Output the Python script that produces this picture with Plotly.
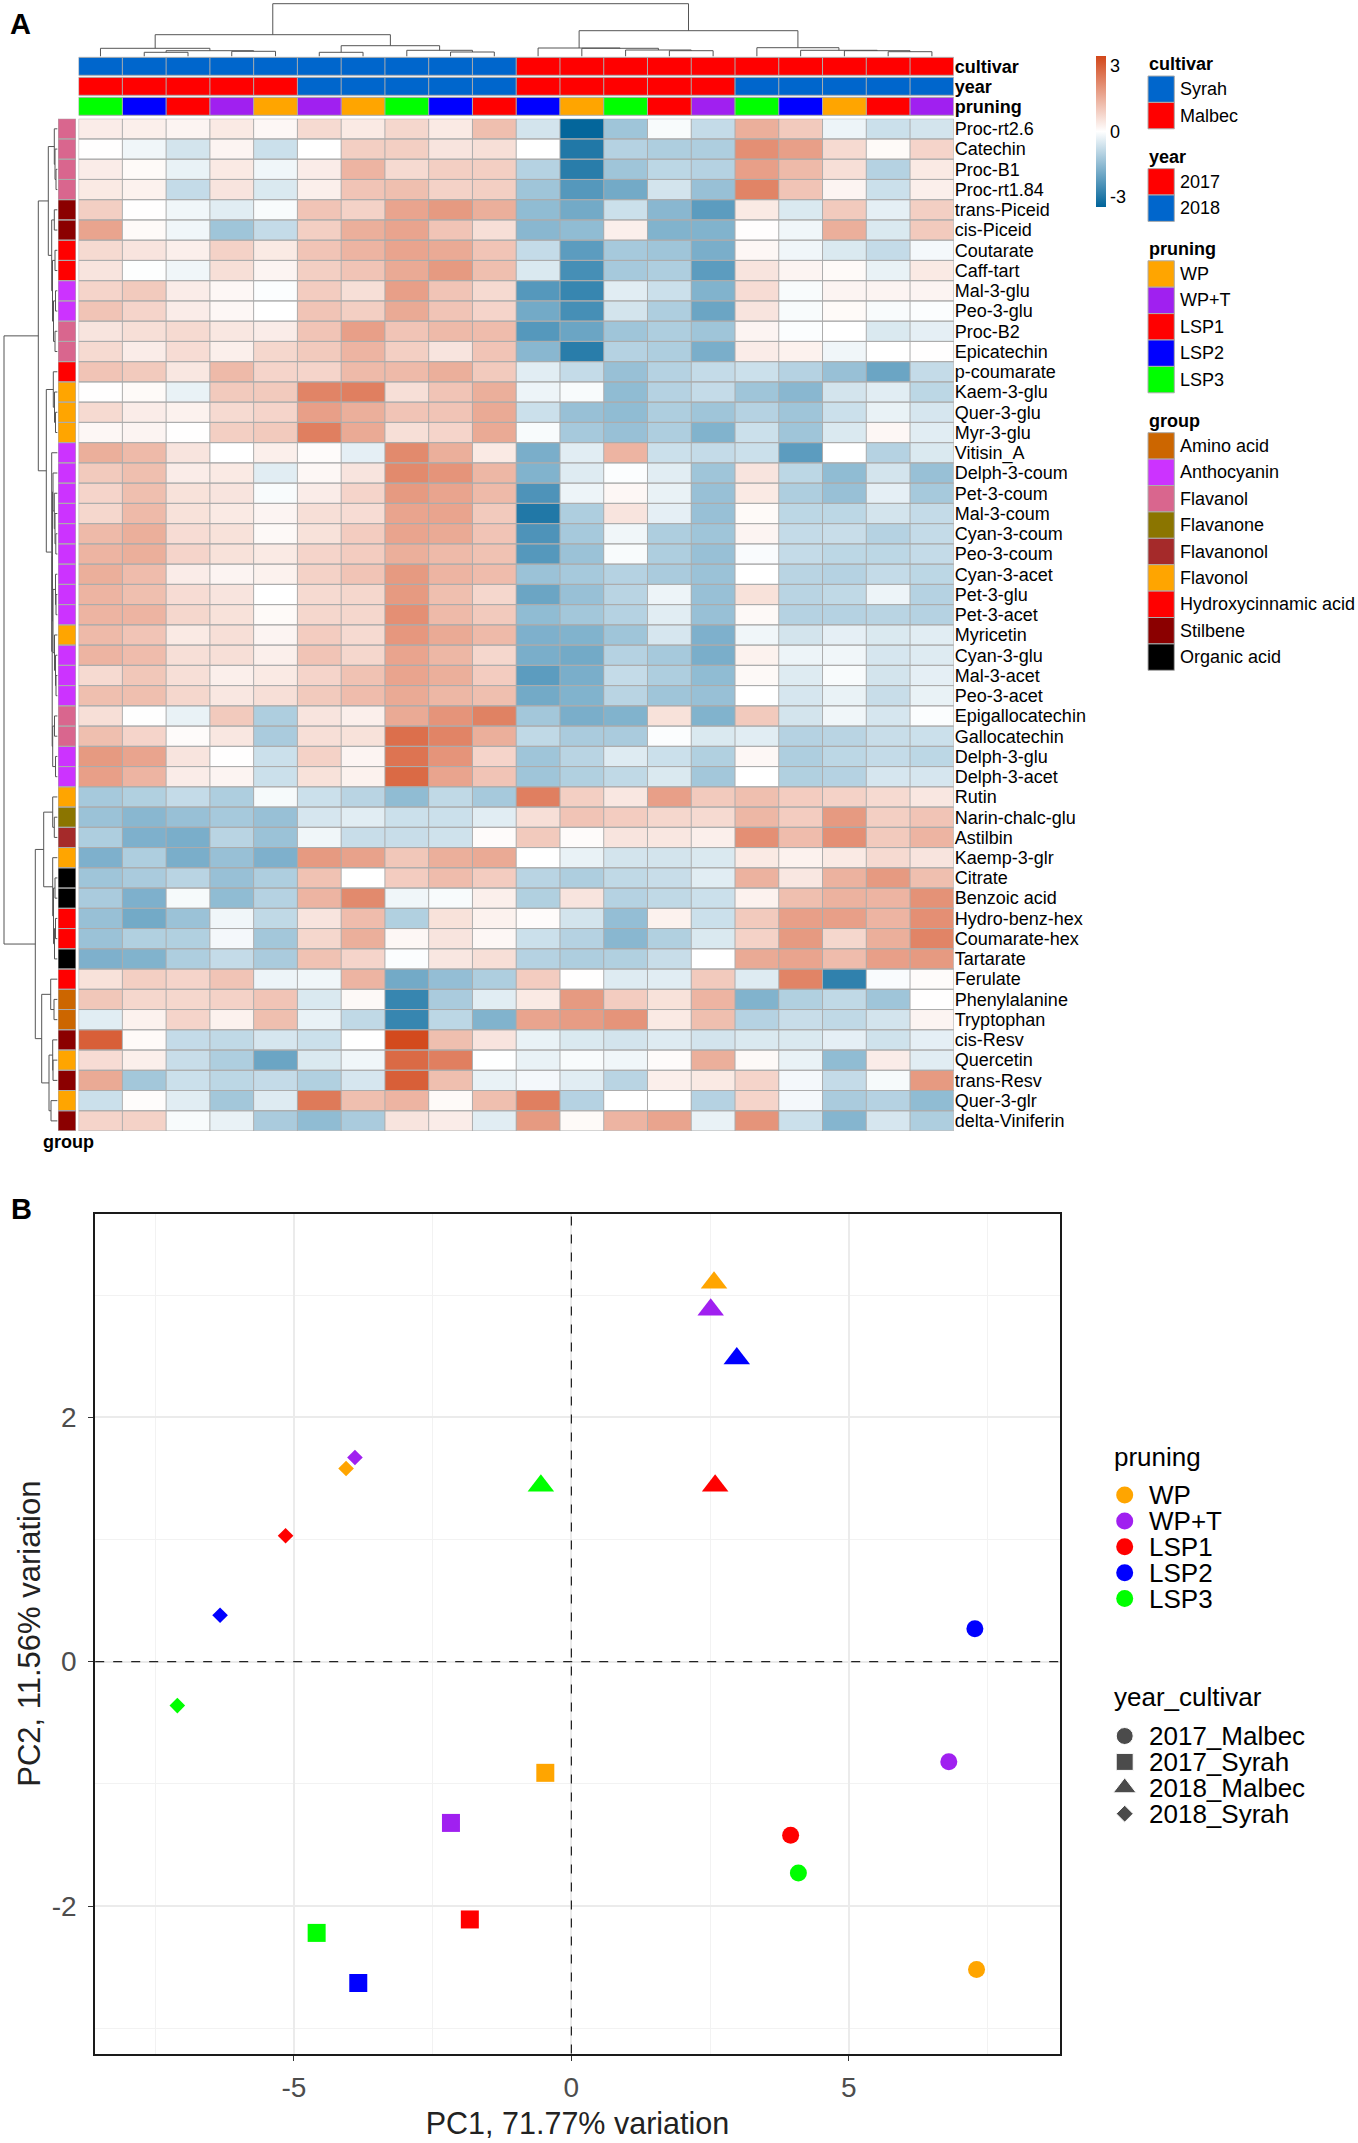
import plotly.graph_objects as go

W, H = 1358, 2143
FONT = "Liberation Sans"

metabolites = ['Proc-rt2.6', 'Catechin', 'Proc-B1', 'Proc-rt1.84', 'trans-Piceid', 'cis-Piceid', 'Coutarate',
               'Caff-tart', 'Mal-3-glu', 'Peo-3-glu', 'Proc-B2', 'Epicatechin', 'p-coumarate', 'Kaem-3-glu',
               'Quer-3-glu', 'Myr-3-glu', 'Vitisin_A', 'Delph-3-coum', 'Pet-3-coum', 'Mal-3-coum', 'Cyan-3-coum',
               'Peo-3-coum', 'Cyan-3-acet', 'Pet-3-glu', 'Pet-3-acet', 'Myricetin', 'Cyan-3-glu', 'Mal-3-acet',
               'Peo-3-acet', 'Epigallocatechin', 'Gallocatechin', 'Delph-3-glu', 'Delph-3-acet', 'Rutin',
               'Narin-chalc-glu', 'Astilbin', 'Kaemp-3-glr', 'Citrate', 'Benzoic acid', 'Hydro-benz-hex',
               'Coumarate-hex', 'Tartarate', 'Ferulate', 'Phenylalanine', 'Tryptophan', 'cis-Resv', 'Quercetin',
               'trans-Resv', 'Quer-3-glr', 'delta-Viniferin']

heat_values = [
    [.35, .3, .2, .4, .15, .7, .4, .75, .4, 1.2, -.6, -3.4, -1.3, -.1, -.8, 1.5, 1.0, -.25, -.7, -.6],
    [.02, -.2, -.6, .2, -.7, 0, .9, .9, .5, .6, 0, -3.0, -1.0, -1.1, -1.1, 2.1, 1.8, .7, .1, .8],
    [.35, .1, -.3, .4, -.2, .35, 1.4, .7, .9, .9, -1.0, -2.9, -1.3, -.9, -1.0, 1.8, 1.3, .6, -1.0, .4],
    [.4, .25, -.8, .5, -.5, .3, 1.1, 1.2, .85, .9, -1.3, -2.3, -1.9, -.6, -1.4, 2.3, 1.1, .2, -.7, .3],
    [.9, .02, -.2, -.4, -.1, 1.1, .85, 1.7, 1.9, 1.5, -1.5, -1.9, -.7, -1.6, -2.2, .4, -.5, 1.0, -.35, .9],
    [1.7, .1, -.2, -1.3, -.8, .9, 1.5, 1.7, 1.1, .6, -1.6, -1.5, .3, -1.7, -1.7, .03, -.2, 1.5, -.5, 1.0],
    [.7, .5, .3, .85, .4, 1.1, 1.4, 1.7, 1.6, 1.1, -.8, -2.2, -1.2, -1.3, -1.8, .15, -.2, -.5, -.8, -.15],
    [.5, -.03, -.2, .6, .2, .9, 1.1, 1.6, 1.9, 1.2, -.5, -2.5, -1.2, -1.1, -2.2, .5, .2, .1, -.3, .4],
    [.8, 1.0, .35, .15, -.05, .95, .6, 1.8, 1.1, .7, -2.3, -2.7, -.4, -.7, -1.7, .65, -.1, .2, .2, .2],
    [1.1, .8, .35, .15, 0, 1.1, .9, 1.6, 1.1, .8, -1.9, -2.5, -.6, -1.1, -2.0, .5, -.1, .1, -.1, -.05],
    [.5, .6, .7, .45, .35, 1.1, 1.8, 1.1, 1.3, 1.25, -2.3, -2.0, -1.3, -1.1, -1.3, .2, -.05, 0, -.5, -.35],
    [.7, .35, .65, .3, .75, 1.0, 1.4, .9, .5, 1.1, -1.6, -2.9, -1.0, -1.1, -1.8, .35, .25, -.2, 0, .02],
    [1.1, 1.0, .45, 1.3, .8, .8, 1.3, 1.3, 1.5, 1.0, -.4, -.8, -1.4, -1.0, -.8, -.7, -1.0, -1.4, -2.0, -.8],
    [.02, .1, -.3, 1.0, 1.0, 2.3, 2.4, .6, 1.1, 1.5, -.25, -.1, -1.5, -1.0, -.8, -1.3, -1.6, -.6, -.4, -.9],
    [.7, .35, .25, .7, .8, 1.8, 1.5, 1.1, 1.1, 1.6, -.7, -1.4, -1.5, -1.1, -1.3, -1.0, -1.3, -.7, -.3, -.55],
    [.15, .2, .02, .9, 1.0, 2.4, 1.6, .6, .8, 1.6, -.1, -1.2, -1.4, -1.1, -1.7, -.7, -1.3, -.5, .15, -.4],
    [1.5, 1.3, .5, 0, .3, .07, -.35, 2.2, 1.5, .4, -1.8, -.4, 1.4, -.7, -.8, -.7, -2.2, 0, -1.0, -.5],
    [1.0, 1.2, .35, .4, -.4, .15, .5, 2.2, 2.0, 1.35, -1.7, -.45, -.05, -.4, -1.3, .5, -.9, -1.5, -.6, -1.4],
    [.8, 1.2, .55, .5, -.1, .35, .8, 1.9, 1.7, 1.3, -2.4, -.25, .15, -.3, -1.4, .4, -1.1, -1.4, -.35, -1.2],
    [.75, 1.3, .55, .4, .2, .6, .65, 1.7, 1.7, 1.0, -3.0, -1.1, .5, -.35, -1.4, .1, -.9, -.9, -.6, -.8],
    [1.3, 1.5, .65, .55, .12, .55, .95, 1.7, 1.6, 1.1, -2.4, -1.2, -.2, -1.1, -1.3, .2, -.8, -.75, -1.0, -.8],
    [1.4, 1.5, .8, .55, .4, .8, .95, 1.5, 1.3, 1.15, -2.3, -1.35, -.1, -1.1, -1.4, -.08, -.8, -.9, -.9, -.8],
    [1.5, 1.25, .35, .2, .25, .85, 1.1, 1.9, 1.4, 1.25, -1.35, -1.2, -1.0, -1.15, -1.35, 0, -.95, -1.0, -.8, -.9],
    [1.4, 1.2, .65, .5, 0, .7, .75, 1.9, 1.2, .75, -2.0, -1.4, -.95, -.25, -1.4, .55, -.95, -.85, -.25, -1.0],
    [1.4, 1.4, .75, .55, .1, .75, .75, 2.1, 1.3, 1.0, -1.5, -1.25, -1.0, -.4, -1.4, .12, -1.0, -1.0, -.95, -1.0],
    [1.3, 1.1, .4, .6, .2, .95, .7, 1.95, 1.6, 1.3, -1.75, -1.7, -1.3, -.55, -1.75, -.2, -.6, -.35, -.5, -.4],
    [1.4, 1.25, .6, .6, .3, 1.1, .75, 1.7, 1.35, .75, -1.8, -1.9, -1.0, -1.2, -1.8, .25, -.25, -.2, -.55, -.45],
    [.7, 1.05, .6, .3, .4, .8, 1.15, 1.7, 1.5, .95, -2.2, -1.8, -.8, -1.1, -1.5, .12, -.45, -.1, -.6, -.35],
    [1.2, 1.2, .75, .45, .6, 1.0, 1.25, 1.6, 1.35, 1.2, -1.9, -1.7, -.95, -1.3, -1.4, 0, -.55, -.3, -.75, -.3],
    [.6, -.02, -.3, 1.0, -1.1, .5, .3, 1.6, 2.0, 2.35, -1.25, -1.8, -1.7, .55, -1.7, 1.0, -.6, -.2, -.55, -.05],
    [1.2, .8, .07, .45, -1.15, .6, .55, 2.7, 2.3, 1.5, -.85, -1.15, -1.15, -.05, -.5, -.4, -1.0, -.95, -.75, -.7],
    [1.9, 1.7, .5, .02, -.7, .85, .2, 2.6, 2.0, .8, -1.3, -.95, -.45, -.7, -1.05, .15, -1.1, -.9, -.8, -.9],
    [1.8, 1.4, .35, .2, -.7, .55, .25, 2.8, 1.7, 1.1, -1.3, -1.05, -.85, -.5, -1.25, 0, -1.05, -1.0, -.55, -.55],
    [-1.2, -1.05, -.8, -1.1, -.12, -.7, -.95, -1.5, -.85, -1.2, 2.4, .9, .45, 1.8, 1.0, 1.2, .95, .85, .7, .45],
    [-1.35, -1.6, -1.4, -1.2, -1.4, -.55, -.4, -.7, -.7, -.4, .6, 1.1, .95, .75, .7, 1.35, .95, 1.9, .9, 1.1],
    [-1.1, -1.75, -1.8, -.95, -1.35, -.2, -.75, -.75, -.65, .08, 1.0, .08, .5, .45, .3, 2.1, 1.25, 2.1, 1.0, 1.4],
    [-1.75, -1.1, -1.8, -1.4, -1.75, 1.9, 1.75, 1.05, 1.5, 1.6, 0, -.3, -.6, -.6, -.5, .4, .25, .4, .7, .5],
    [-1.3, -1.15, -.95, -1.4, -1.1, 1.15, 0, .95, 1.25, .95, -.95, -1.1, -.85, -.75, -.4, 1.45, .45, 1.45, 1.9, 1.2],
    [-1.15, -1.75, -.12, -1.5, -1.0, 1.4, 2.2, -.2, -.1, .3, -1.05, .5, -1.0, -.85, -.7, .25, 1.2, 1.45, 1.4, 2.05],
    [-1.4, -1.9, -1.35, -.2, -.85, .5, 1.25, -1.05, .55, .25, .08, -.6, -1.45, .25, -.7, 1.0, 1.8, 1.8, 1.4, 2.1],
    [-1.35, -1.05, -1.05, -.15, -1.25, .75, 1.5, .15, .5, .15, -.7, -1.0, -1.6, -1.05, -.5, .85, 1.9, .75, 1.5, 2.3],
    [-1.75, -1.7, -1.1, -.8, -1.15, 1.15, .8, -.05, .45, .6, -1.0, -1.1, -1.05, -.75, 0, 1.6, 1.7, 1.25, 1.8, 1.9],
    [.55, .9, .8, 1.1, -.25, -.2, 1.4, -1.9, -1.45, -1.1, .95, .02, -.45, -.4, 1.0, -.45, 2.3, -2.8, -.08, .07],
    [1.05, .75, .75, .85, 1.1, -.5, .12, -2.7, -1.15, -.4, .4, 1.9, .95, .55, 1.4, -1.7, -1.05, -.85, -1.3, .02],
    [-.4, .25, .8, .25, 1.2, -.3, -.85, -2.7, -.9, -1.7, 1.7, 1.85, 2.0, .4, 1.2, -1.0, -.75, -.85, -.6, .2],
    [3.0, .1, -.8, -.85, -.55, -.7, 0, 3.4, 1.2, .5, -.3, -.5, -.6, -.45, -.6, -.5, -.5, -.35, -.65, -.35],
    [.65, .3, -.75, -1.1, -2.0, -.5, -.2, 2.8, 2.4, -.01, -.3, -.1, -.2, .08, 1.5, .12, -.3, -1.5, .35, -.4],
    [1.6, -1.25, -.7, -.9, -.8, -1.05, -.55, 3.0, 1.2, -.3, -.15, -.4, -.95, .3, .4, .8, -.15, -.8, -.12, 1.9],
    [-.7, .06, -.4, -1.25, -.45, 2.5, 1.2, 1.4, .1, 1.2, 2.4, -1.0, 0, 0, -1.0, .8, -.15, -1.15, -1.0, -1.5],
    [.8, .85, -.1, -.3, -1.15, -1.5, -1.15, .5, .35, -.4, 1.9, .1, 1.4, 1.7, -.3, 2.0, -.7, -1.65, -.55, -1.1],
]

cultivar_names = ['Syrah', 'Malbec']
cultivar_colors = ['#0066CC', '#FF0000']
year_names = ['2017', '2018']
year_colors = ['#FF0000', '#0066CC']
pruning_names = ['WP', 'WP+T', 'LSP1', 'LSP2', 'LSP3']
pruning_colors = ['#FFA500', '#A020F0', '#FF0000', '#0000FF', '#00FF00']
group_names = ['Amino acid', 'Anthocyanin', 'Flavanol', 'Flavanone', 'Flavanonol', 'Flavonol',
               'Hydroxycinnamic acid', 'Stilbene', 'Organic acid']
group_colors = ['#CC6600', '#CC33FF', '#D9668E', '#8B7500', '#A52A2A', '#FFA500', '#FF0000', '#8B0000', '#000000']

col_cultivar = ['Syrah'] * 10 + ['Malbec'] * 10
col_year = ['2017'] * 5 + ['2018'] * 5 + ['2017'] * 5 + ['2018'] * 5
col_pruning = ['LSP3', 'LSP2', 'LSP1', 'WP+T', 'WP', 'WP+T', 'WP', 'LSP3', 'LSP2', 'LSP1',
               'LSP2', 'WP', 'LSP3', 'LSP1', 'WP+T', 'LSP3', 'LSP2', 'WP', 'LSP1', 'WP+T']
row_group = ['Flavanol'] * 4 + ['Stilbene'] * 2 + ['Hydroxycinnamic acid'] * 2 + ['Anthocyanin'] * 2 + \
            ['Flavanol'] * 2 + ['Hydroxycinnamic acid'] + ['Flavonol'] * 3 + ['Anthocyanin'] * 9 + ['Flavonol'] + \
            ['Anthocyanin'] * 3 + ['Flavanol'] * 2 + ['Anthocyanin'] * 2 + \
            ['Flavonol', 'Flavanone', 'Flavanonol', 'Flavonol', 'Organic acid', 'Organic acid',
             'Hydroxycinnamic acid', 'Hydroxycinnamic acid', 'Organic acid', 'Hydroxycinnamic acid',
             'Amino acid', 'Amino acid', 'Stilbene', 'Flavonol', 'Stilbene', 'Flavonol', 'Stilbene']

# dendrograms as nested merges: (left, right, height)
col_tree = (((0, ((1, 2, 4.2), (3, 4, 5.2), 5.8), 8.2),
             ((5, 6, 4.2), (7, (8, 9, 4.5), 6.2), 10.8), 21.8),
            ((10, (11, (12, (13, 14, 5.8), 6.5), 8.2), 8.5),
             (15, (16, (17, (18, 19, 4.8), 5.8), 6.2), 8.8), 25.8), 52.8)

row_a = ((0, (1, (2, 3, 1.6), 2.6), 3.3),
         ((4, 5, 3.3), ((6, 7, 2.6), ((8, 9, 2.1), (10, 11, 2.6), 4.1), 5.1), 5.9), 9.3)
row_g1 = (17, (18, (19, (20, 21, 1.8), 2.6), 3.3), 4.6)
row_g2 = ((22, (23, 24, 1.6), 2.1), (25, (26, (27, 28, 1.6), 2.1), 3.1), 4.6)
row_g3 = ((29, 30, 3.1), (31, 32, 2.1), 4.9)
row_b = ((12, (13, (14, 15, 2.1), 3.1), 4.3), (16, ((row_g1, row_g2, 5.1), row_g3, 5.4), 5.9), 11.3)
row_c = ((33, (34, 35, 3.3), 4.9), (36, ((37, 38, 2.6), ((39, 40, 2.1), 41, 3.1), 4.1), 4.9), 13.9)
row_d = ((42, (43, 44, 3.6), 6.9), ((45, (46, 47, 4.6), 4.9), (48, 49, 6.6), 8.6), 15.9)
row_tree = ((row_a, row_b, 19.3), (row_c, row_d, 22.3), 53.6)

# PCA scores, in the order of pruning_names
pca_series = ['2017_Malbec', '2017_Syrah', '2018_Malbec', '2018_Syrah']
pca_symbols = ['circle', 'square', 'triangle-up', 'diamond']
pca_sizes = [17, 18, 23, 12]
legend_sizes = [17, 17, 20, 13]
pc1 = [[7.3, 6.8, 3.95, 7.27, 4.09],
       [-.47, -2.17, -1.83, -3.84, -4.59],
       [2.57, 2.51, 2.59, 2.98, -.55],
       [-4.06, -3.9, -5.15, -6.33, -7.1]]
pc2 = [[-2.52, -.82, -1.42, .27, -1.73],
       [-.91, -1.32, -2.11, -2.63, -2.22],
       [3.10, 2.88, 1.44, 2.48, 1.44],
       [1.58, 1.67, 1.03, .38, -.36]]


def xdom(a, b):
    return [a / W, b / W]


def ydom(top, bottom):
    return [1 - bottom / H, 1 - top / H]


def tree_segments(node, xs, hs):
    # walks the merges, returns (position, height) of the node
    if isinstance(node, int):
        return node, 0
    p1, h1 = tree_segments(node[0], xs, hs)
    p2, h2 = tree_segments(node[1], xs, hs)
    xs += [p1, p1, p2, p2, None]
    hs += [h1, node[2], node[2], h2, None]
    return (p1 + p2) / 2, node[2]


def cell_lines(n_cols, n_rows, inset=0.5):
    xs, ys = [], []
    for r in range(n_rows):
        for c in range(n_cols + 1):
            xs += [c - .5, c - .5, None]
            ys += [r - inset, r + inset, None]
        for e in (r - inset, r + inset):
            xs += [-.5, n_cols - .5, None]
            ys += [e, e, None]
    return xs, ys


def discrete_scale(colors):
    n = len(colors) - 1
    return [[i / n, c] for i, c in enumerate(colors)]


fig = go.Figure()
GRID = '#acacac'

# main heatmap
fig.add_trace(go.Heatmap(z=heat_values, zmin=-3.45, zmax=3.45, xaxis='x', yaxis='y',
                         colorscale=[[0, '#00649A'], [.5, '#FFFFFF'], [1, '#D2471A']],
                         colorbar=dict(thickness=10.3, lenmode='pixels', len=150.5, x=1095.7 / W, xanchor='left',
                                       xpad=0, ypad=0, y=1 - 131.3 / H, yanchor='middle', outlinewidth=0,
                                       tickvals=[-3, 0, 3], ticktext=['-3', '0', '3'], ticks='',
                                       tickfont=dict(size=18, color='black'))))
gx, gy = cell_lines(20, 50)
fig.add_trace(go.Scatter(x=gx, y=gy, mode='lines', line=dict(color=GRID, width=1), xaxis='x', yaxis='y',
                         hoverinfo='skip'))

# column annotation bars
annot_colors = ['#0066CC', '#FF0000', '#A020F0', '#FFA500', '#0000FF', '#00FF00']
annot_rows = [[cultivar_colors[cultivar_names.index(v)] for v in col_cultivar],
              [year_colors[year_names.index(v)] for v in col_year],
              [pruning_colors[pruning_names.index(v)] for v in col_pruning]]
fig.add_trace(go.Heatmap(z=[[annot_colors.index(c) for c in row] for row in annot_rows], zmin=0, zmax=5,
                         colorscale=discrete_scale(annot_colors), showscale=False, ygap=2, xaxis='x2', yaxis='y2'))
gx, gy = cell_lines(20, 3, inset=.45)
fig.add_trace(go.Scatter(x=gx, y=gy, mode='lines', line=dict(color=GRID, width=1), xaxis='x2', yaxis='y2',
                         hoverinfo='skip'))

# group annotation column
fig.add_trace(go.Heatmap(z=[[group_names.index(g)] for g in row_group], zmin=0, zmax=len(group_names) - 1,
                         colorscale=discrete_scale(group_colors), showscale=False, xaxis='x3', yaxis='y3'))
gx, gy = cell_lines(1, 50)
fig.add_trace(go.Scatter(x=gx, y=gy, mode='lines', line=dict(color=GRID, width=1), xaxis='x3', yaxis='y3',
                         hoverinfo='skip'))

# dendrograms
cx, ch = [], []
tree_segments(col_tree, cx, ch)
fig.add_trace(go.Scatter(x=cx, y=ch, mode='lines', line=dict(color='#555555', width=1), xaxis='x4', yaxis='y4',
                         hoverinfo='skip'))
rx, rh = [], []
tree_segments(row_tree, rx, rh)
fig.add_trace(go.Scatter(x=rh, y=rx, mode='lines', line=dict(color='#555555', width=1), xaxis='x5', yaxis='y5',
                         hoverinfo='skip'))

# PCA
for i, name in enumerate(pca_series):
    fig.add_trace(go.Scatter(x=pc1[i], y=pc2[i], mode='markers', name=name, xaxis='x6', yaxis='y6',
                             text=pruning_names,
                             marker=dict(symbol=pca_symbols[i], size=pca_sizes[i], color=pruning_colors)))

# overlay in page pixels for the hand made legends
annotations = []


def add_text(x, y, text, size=18, bold=False, xanchor='left'):
    annotations.append(dict(x=x, y=y, xref='x7', yref='y7', text='<b>%s</b>' % text if bold else text,
                            showarrow=False, xanchor=xanchor, yanchor='middle',
                            font=dict(size=size, color='black', family=FONT)))


shapes = []


def add_swatch_block(title, title_y, top, names, colors):
    add_text(1146.5, title_y, title, bold=True)
    for i, (n, c) in enumerate(zip(names, colors)):
        y0 = top + i * 26.4
        shapes.append(dict(type='rect', xref='x7', yref='y7', x0=1148, x1=1174.3, y0=y0, y1=y0 + 26.4,
                           fillcolor=c, line=dict(color=GRID, width=1)))
        add_text(1177.5, y0 + 13.2, n)


add_swatch_block('cultivar', 63.7, 76, cultivar_names, cultivar_colors)
add_swatch_block('year', 156.7, 168.6, year_names, year_colors)
add_swatch_block('pruning', 249, 260.8, pruning_names, pruning_colors)
add_swatch_block('group', 420.8, 432.7, group_names, group_colors)

add_text(8, 24, 'A', size=29, bold=True)
add_text(9, 1209, 'B', size=29, bold=True)
add_text(41, 1142, 'group', bold=True)

add_text(1111.5, 1457, 'pruning', size=26)
prune_y = [1495 + i * 25.9 for i in range(5)]
fig.add_trace(go.Scatter(x=[1124.7] * 5, y=prune_y, mode='markers', xaxis='x7', yaxis='y7', hoverinfo='skip',
                         marker=dict(symbol='circle', size=17, color=pruning_colors)))
for name, y in zip(pruning_names, prune_y):
    add_text(1146.5, y, name, size=26)

add_text(1111.5, 1697, 'year_cultivar', size=26)
series_y = [1736 + i * 25.9 for i in range(4)]
fig.add_trace(go.Scatter(x=[1124.7] * 4, y=series_y, mode='markers', xaxis='x7', yaxis='y7', hoverinfo='skip',
                         marker=dict(symbol=pca_symbols, size=legend_sizes, color='black')))
for name, y in zip(pca_series, series_y):
    add_text(1146.5, y, name, size=26)

# dashed zero lines of the PCA
for kw in (dict(x0=0, x1=0, y0=0, y1=1, xref='x6', yref='y6 domain'),
           dict(x0=0, x1=1, y0=0, y1=0, xref='x6 domain', yref='y6')):
    shapes.append(dict(type='line', line=dict(color='#222222', width=1.2, dash='dash'), **kw))

hidden = dict(visible=False, showgrid=False, zeroline=False, fixedrange=True)
GREY_MAJOR = '#EBEBEB'
GREY_MINOR = '#F2F2F2'

fig.update_layout(
    width=W, height=H, margin=dict(l=0, r=0, t=0, b=0), showlegend=False,
    paper_bgcolor='white', plot_bgcolor='rgba(0,0,0,0)',
    font=dict(family=FONT, color='black'),
    annotations=annotations, shapes=shapes,
    xaxis=dict(hidden, domain=xdom(78.6, 953.8), range=[-.5, 19.5]),
    yaxis=dict(domain=ydom(118.7, 1131), range=[49.5, -.5], side='right', anchor='x',
               tickvals=list(range(50)), ticktext=metabolites, ticks='', showgrid=False, zeroline=False,
               tickfont=dict(size=18, color='black')),
    xaxis2=dict(hidden, domain=xdom(78.6, 953.8), range=[-.5, 19.5]),
    yaxis2=dict(domain=ydom(56.3, 116.3), range=[2.5, -.5], side='right', anchor='x2',
                tickvals=[0, 1, 2], ticktext=['<b>cultivar</b>', '<b>year</b>', '<b>pruning</b>'], ticks='',
                showgrid=False, zeroline=False, tickfont=dict(size=18, color='black')),
    xaxis3=dict(hidden, domain=xdom(58, 75.9), range=[-.5, .5]),
    yaxis3=dict(hidden, domain=ydom(118.7, 1131), range=[49.5, -.5], anchor='x3'),
    xaxis4=dict(hidden, domain=xdom(78.6, 953.8), range=[-.5, 19.5], anchor='y4'),
    yaxis4=dict(hidden, domain=ydom(2.5, 56.5), range=[0, 54], anchor='x4'),
    xaxis5=dict(hidden, domain=xdom(0, 57.6), range=[57.6, 0], anchor='y5'),
    yaxis5=dict(hidden, domain=ydom(118.7, 1131), range=[49.5, -.5], anchor='x5'),
    xaxis6=dict(domain=xdom(95.2, 1059.8), range=[-8.58, 8.8], anchor='y6', mirror=True, showline=True,
                linecolor='#1a1a1a', linewidth=2, zeroline=False, ticklabelstandoff=3,
                tickvals=[-5, 0, 5], ticktext=['-5', '0', '5'], ticks='outside', ticklen=5, tickcolor='#333333',
                tickfont=dict(size=28, color='#4D4D4D'), showgrid=True, gridcolor=GREY_MAJOR, gridwidth=2,
                minor=dict(tickvals=[-7.5, -2.5, 2.5, 7.5], showgrid=True, gridcolor=GREY_MINOR, gridwidth=1, ticks=''),
                title=dict(text='PC1, 71.77% variation', font=dict(size=30.5, color='#222222'), standoff=11)),
    yaxis6=dict(domain=ydom(1213.8, 2053.5), range=[-3.207, 3.665], anchor='x6', mirror=True, showline=True,
                linecolor='#1a1a1a', linewidth=2, zeroline=False, ticklabelstandoff=6,
                tickvals=[-2, 0, 2], ticktext=['-2', '0', '2'], ticks='outside', ticklen=5, tickcolor='#333333',
                tickfont=dict(size=28, color='#4D4D4D'), showgrid=True, gridcolor=GREY_MAJOR, gridwidth=2,
                minor=dict(tickvals=[-3, -1, 1, 3], showgrid=True, gridcolor=GREY_MINOR, gridwidth=1, ticks=''),
                title=dict(text='PC2, 11.56% variation', font=dict(size=31, color='#222222'), standoff=2)),
    xaxis7=dict(hidden, domain=[0, 1], range=[0, W], anchor='y7'),
    yaxis7=dict(hidden, domain=[0, 1], range=[H, 0], anchor='x7'),
)

fig.write_html("out.html", post_script="document.body.style.margin='0';", config={'displayModeBar': False})
